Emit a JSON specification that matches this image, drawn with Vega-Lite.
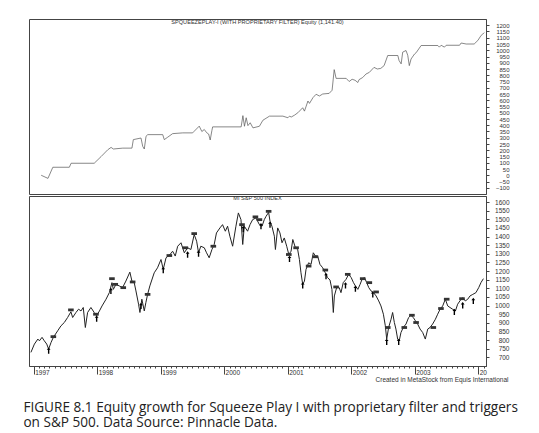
{
  "$schema": "https://vega.github.io/schema/vega-lite/v6.json",
  "background": "white",
  "padding": {"left": 23, "top": 18, "right": 5, "bottom": 5},
  "config": {
    "font": "Liberation Sans",
    "view": {"stroke": "#444", "strokeWidth": 1},
    "concat": {"spacing": 0},
    "axis": {"grid": false, "domainColor": "#444", "tickColor": "#444", "labelColor": "#333", "titleColor": "#333"}
  },
  "title": {
    "text": ["FIGURE 8.1   Equity growth for Squeeze Play I with proprietary filter and triggers", "on S&P 500. Data Source: Pinnacle Data."],
    "orient": "bottom",
    "anchor": "start",
    "font": "Open Sans",
    "fontSize": 13.6,
    "fontWeight": "normal",
    "color": "#222",
    "lineHeight": 15,
    "offset": 18,
    "dx": -5
  },
  "datasets": {
    "equity": [
      {"date": "1997-02-13", "equity": 0},
      {"date": "1997-03-24", "equity": -25},
      {"date": "1997-04-21", "equity": 64},
      {"date": "1997-07-25", "equity": 64},
      {"date": "1997-08-04", "equity": 96},
      {"date": "1997-12-15", "equity": 96},
      {"date": "1998-01-24", "equity": 150},
      {"date": "1998-03-03", "equity": 204},
      {"date": "1998-03-22", "equity": 223},
      {"date": "1998-04-04", "equity": 210},
      {"date": "1998-05-28", "equity": 217},
      {"date": "1998-07-20", "equity": 217},
      {"date": "1998-07-28", "equity": 285},
      {"date": "1998-09-10", "equity": 298},
      {"date": "1998-09-20", "equity": 231},
      {"date": "1998-09-29", "equity": 210},
      {"date": "1998-10-09", "equity": 312},
      {"date": "1998-10-19", "equity": 325},
      {"date": "1999-01-13", "equity": 325},
      {"date": "1999-01-22", "equity": 285},
      {"date": "1999-02-11", "equity": 305},
      {"date": "1999-03-11", "equity": 333},
      {"date": "1999-05-08", "equity": 339},
      {"date": "1999-07-04", "equity": 339},
      {"date": "1999-07-13", "equity": 352},
      {"date": "1999-08-11", "equity": 393},
      {"date": "1999-08-26", "equity": 350},
      {"date": "1999-09-09", "equity": 366},
      {"date": "1999-09-23", "equity": 340},
      {"date": "1999-10-04", "equity": 330},
      {"date": "1999-10-13", "equity": 282},
      {"date": "1999-10-23", "equity": 360},
      {"date": "1999-10-27", "equity": 387},
      {"date": "2000-04-08", "equity": 387},
      {"date": "2000-04-18", "equity": 477},
      {"date": "2000-04-27", "equity": 392},
      {"date": "2000-05-07", "equity": 460},
      {"date": "2000-05-17", "equity": 397},
      {"date": "2000-05-30", "equity": 420},
      {"date": "2000-06-15", "equity": 379},
      {"date": "2000-07-22", "equity": 392},
      {"date": "2000-08-11", "equity": 440},
      {"date": "2000-09-18", "equity": 473},
      {"date": "2000-12-04", "equity": 473},
      {"date": "2001-01-02", "equity": 460},
      {"date": "2001-01-11", "equity": 473},
      {"date": "2001-01-21", "equity": 466},
      {"date": "2001-02-08", "equity": 480},
      {"date": "2001-02-28", "equity": 500},
      {"date": "2001-03-28", "equity": 540},
      {"date": "2001-04-07", "equity": 513},
      {"date": "2001-04-17", "equity": 553},
      {"date": "2001-04-27", "equity": 594},
      {"date": "2001-05-06", "equity": 575},
      {"date": "2001-05-26", "equity": 621},
      {"date": "2001-06-13", "equity": 648},
      {"date": "2001-07-02", "equity": 634},
      {"date": "2001-07-21", "equity": 650},
      {"date": "2001-08-27", "equity": 655},
      {"date": "2001-09-13", "equity": 680},
      {"date": "2001-09-25", "equity": 845},
      {"date": "2001-10-06", "equity": 775},
      {"date": "2001-12-03", "equity": 775},
      {"date": "2001-12-20", "equity": 750},
      {"date": "2002-01-06", "equity": 768},
      {"date": "2002-01-23", "equity": 760},
      {"date": "2002-02-08", "equity": 742},
      {"date": "2002-02-15", "equity": 765},
      {"date": "2002-03-08", "equity": 782},
      {"date": "2002-03-27", "equity": 810},
      {"date": "2002-04-15", "equity": 823},
      {"date": "2002-05-12", "equity": 863},
      {"date": "2002-05-31", "equity": 850},
      {"date": "2002-06-20", "equity": 855},
      {"date": "2002-07-09", "equity": 877},
      {"date": "2002-07-30", "equity": 958},
      {"date": "2002-09-26", "equity": 958},
      {"date": "2002-10-03", "equity": 918},
      {"date": "2002-10-15", "equity": 891},
      {"date": "2002-10-24", "equity": 985},
      {"date": "2002-11-12", "equity": 998},
      {"date": "2002-11-22", "equity": 960},
      {"date": "2002-12-01", "equity": 877},
      {"date": "2002-12-11", "equity": 930},
      {"date": "2002-12-31", "equity": 970},
      {"date": "2003-01-09", "equity": 980},
      {"date": "2003-02-07", "equity": 1038},
      {"date": "2003-05-14", "equity": 1038},
      {"date": "2003-05-23", "equity": 1025},
      {"date": "2003-06-02", "equity": 1040},
      {"date": "2003-06-21", "equity": 1025},
      {"date": "2003-07-01", "equity": 1040},
      {"date": "2003-09-16", "equity": 1040},
      {"date": "2003-09-25", "equity": 1058},
      {"date": "2003-10-24", "equity": 1050},
      {"date": "2003-12-09", "equity": 1050},
      {"date": "2003-12-20", "equity": 1065},
      {"date": "2003-12-30", "equity": 1078},
      {"date": "2004-01-18", "equity": 1119},
      {"date": "2004-01-28", "equity": 1130},
      {"date": "2004-02-05", "equity": 1141.4}
    ],
    "spx": [
      {"date": "1996-12-16", "price": 729},
      {"date": "1997-01-05", "price": 777},
      {"date": "1997-01-25", "price": 806},
      {"date": "1997-02-03", "price": 796},
      {"date": "1997-02-18", "price": 816},
      {"date": "1997-03-03", "price": 796},
      {"date": "1997-03-17", "price": 777},
      {"date": "1997-03-28", "price": 748},
      {"date": "1997-04-11", "price": 787},
      {"date": "1997-04-24", "price": 816},
      {"date": "1997-05-19", "price": 854},
      {"date": "1997-06-07", "price": 883},
      {"date": "1997-06-26", "price": 902},
      {"date": "1997-07-15", "price": 931},
      {"date": "1997-08-03", "price": 964},
      {"date": "1997-08-13", "price": 931},
      {"date": "1997-09-01", "price": 960},
      {"date": "1997-09-16", "price": 979},
      {"date": "1997-09-30", "price": 969},
      {"date": "1997-10-13", "price": 989},
      {"date": "1997-10-25", "price": 873},
      {"date": "1997-11-07", "price": 960},
      {"date": "1997-11-26", "price": 989},
      {"date": "1997-12-15", "price": 960},
      {"date": "1997-12-29", "price": 941},
      {"date": "1998-01-14", "price": 969},
      {"date": "1998-01-29", "price": 998},
      {"date": "1998-02-21", "price": 1037},
      {"date": "1998-03-12", "price": 1075},
      {"date": "1998-03-27", "price": 1133},
      {"date": "1998-04-04", "price": 1094},
      {"date": "1998-04-19", "price": 1123},
      {"date": "1998-05-08", "price": 1114},
      {"date": "1998-05-27", "price": 1104},
      {"date": "1998-06-15", "price": 1142},
      {"date": "1998-07-08", "price": 1194},
      {"date": "1998-07-20", "price": 1142},
      {"date": "1998-08-02", "price": 1133},
      {"date": "1998-08-12", "price": 1085},
      {"date": "1998-08-27", "price": 1008},
      {"date": "1998-09-04", "price": 960},
      {"date": "1998-09-15", "price": 1037},
      {"date": "1998-09-29", "price": 969},
      {"date": "1998-10-08", "price": 1017},
      {"date": "1998-10-18", "price": 1065},
      {"date": "1998-10-31", "price": 1114},
      {"date": "1998-11-25", "price": 1190},
      {"date": "1998-12-14", "price": 1219},
      {"date": "1999-01-03", "price": 1267},
      {"date": "1999-01-16", "price": 1210},
      {"date": "1999-02-01", "price": 1277},
      {"date": "1999-02-24", "price": 1296},
      {"date": "1999-03-11", "price": 1315},
      {"date": "1999-03-26", "price": 1287},
      {"date": "1999-04-09", "price": 1344},
      {"date": "1999-04-28", "price": 1364},
      {"date": "1999-05-17", "price": 1306},
      {"date": "1999-06-05", "price": 1335},
      {"date": "1999-06-24", "price": 1325},
      {"date": "1999-07-13", "price": 1412},
      {"date": "1999-07-27", "price": 1373},
      {"date": "1999-08-07", "price": 1306},
      {"date": "1999-08-20", "price": 1344},
      {"date": "1999-09-09", "price": 1335},
      {"date": "1999-09-22", "price": 1306},
      {"date": "1999-10-07", "price": 1277},
      {"date": "1999-10-23", "price": 1325},
      {"date": "1999-11-05", "price": 1354},
      {"date": "1999-11-18", "price": 1421},
      {"date": "1999-12-08", "price": 1450},
      {"date": "1999-12-23", "price": 1469},
      {"date": "2000-01-08", "price": 1431},
      {"date": "2000-01-21", "price": 1460},
      {"date": "2000-02-03", "price": 1402},
      {"date": "2000-02-19", "price": 1344},
      {"date": "2000-03-09", "price": 1460},
      {"date": "2000-03-23", "price": 1537},
      {"date": "2000-04-07", "price": 1498},
      {"date": "2000-04-17", "price": 1354},
      {"date": "2000-04-26", "price": 1460},
      {"date": "2000-05-15", "price": 1431},
      {"date": "2000-05-29", "price": 1469},
      {"date": "2000-06-13", "price": 1498},
      {"date": "2000-07-02", "price": 1508},
      {"date": "2000-07-22", "price": 1469},
      {"date": "2000-08-06", "price": 1460},
      {"date": "2000-08-19", "price": 1498},
      {"date": "2000-08-29", "price": 1517},
      {"date": "2000-09-13", "price": 1540},
      {"date": "2000-09-21", "price": 1489},
      {"date": "2000-10-02", "price": 1460},
      {"date": "2000-10-16", "price": 1402},
      {"date": "2000-10-22", "price": 1325},
      {"date": "2000-11-04", "price": 1450},
      {"date": "2000-11-17", "price": 1421},
      {"date": "2000-11-29", "price": 1364},
      {"date": "2000-12-12", "price": 1392},
      {"date": "2000-12-26", "price": 1344},
      {"date": "2001-01-07", "price": 1296},
      {"date": "2001-01-20", "price": 1315},
      {"date": "2001-01-30", "price": 1383},
      {"date": "2001-02-14", "price": 1335},
      {"date": "2001-02-27", "price": 1325},
      {"date": "2001-03-09", "price": 1267},
      {"date": "2001-03-18", "price": 1190},
      {"date": "2001-03-28", "price": 1123},
      {"date": "2001-04-07", "price": 1142},
      {"date": "2001-04-16", "price": 1210},
      {"date": "2001-05-01", "price": 1248},
      {"date": "2001-05-15", "price": 1239},
      {"date": "2001-05-28", "price": 1306},
      {"date": "2001-06-09", "price": 1287},
      {"date": "2001-06-22", "price": 1287},
      {"date": "2001-07-05", "price": 1239},
      {"date": "2001-07-21", "price": 1219},
      {"date": "2001-08-05", "price": 1190},
      {"date": "2001-08-18", "price": 1162},
      {"date": "2001-09-01", "price": 1148},
      {"date": "2001-09-12", "price": 1094},
      {"date": "2001-09-20", "price": 960},
      {"date": "2001-09-26", "price": 1056},
      {"date": "2001-10-09", "price": 1104},
      {"date": "2001-10-24", "price": 1104},
      {"date": "2001-11-03", "price": 1075},
      {"date": "2001-11-16", "price": 1133},
      {"date": "2001-12-02", "price": 1152},
      {"date": "2001-12-17", "price": 1181},
      {"date": "2002-01-01", "price": 1162},
      {"date": "2002-01-14", "price": 1133},
      {"date": "2002-01-25", "price": 1114},
      {"date": "2002-02-08", "price": 1094},
      {"date": "2002-02-21", "price": 1123},
      {"date": "2002-03-04", "price": 1152},
      {"date": "2002-03-18", "price": 1162},
      {"date": "2002-03-31", "price": 1133},
      {"date": "2002-04-12", "price": 1104},
      {"date": "2002-04-25", "price": 1085},
      {"date": "2002-05-09", "price": 1075},
      {"date": "2002-05-24", "price": 1056},
      {"date": "2002-06-08", "price": 1027},
      {"date": "2002-06-21", "price": 998},
      {"date": "2002-07-05", "price": 950},
      {"date": "2002-07-16", "price": 883},
      {"date": "2002-07-24", "price": 806},
      {"date": "2002-08-04", "price": 873},
      {"date": "2002-08-18", "price": 921},
      {"date": "2002-08-27", "price": 960},
      {"date": "2002-09-06", "price": 902},
      {"date": "2002-09-15", "price": 864},
      {"date": "2002-09-25", "price": 806},
      {"date": "2002-10-04", "price": 796},
      {"date": "2002-10-14", "price": 844},
      {"date": "2002-10-27", "price": 873},
      {"date": "2002-11-12", "price": 893},
      {"date": "2002-11-27", "price": 931},
      {"date": "2002-12-10", "price": 944},
      {"date": "2002-12-24", "price": 931},
      {"date": "2003-01-05", "price": 912},
      {"date": "2003-01-18", "price": 893},
      {"date": "2003-02-01", "price": 864},
      {"date": "2003-02-16", "price": 844},
      {"date": "2003-03-03", "price": 806},
      {"date": "2003-03-17", "price": 864},
      {"date": "2003-03-30", "price": 873},
      {"date": "2003-04-14", "price": 893},
      {"date": "2003-04-30", "price": 921},
      {"date": "2003-05-13", "price": 950},
      {"date": "2003-05-27", "price": 979},
      {"date": "2003-06-11", "price": 998},
      {"date": "2003-06-26", "price": 1037},
      {"date": "2003-07-10", "price": 998},
      {"date": "2003-07-23", "price": 989},
      {"date": "2003-08-07", "price": 979},
      {"date": "2003-08-23", "price": 969},
      {"date": "2003-09-05", "price": 1008},
      {"date": "2003-09-18", "price": 1027},
      {"date": "2003-10-04", "price": 1046},
      {"date": "2003-10-19", "price": 1027},
      {"date": "2003-11-02", "price": 1037},
      {"date": "2003-11-15", "price": 1056},
      {"date": "2003-12-01", "price": 1065},
      {"date": "2003-12-19", "price": 1075},
      {"date": "2004-01-04", "price": 1104},
      {"date": "2004-01-17", "price": 1133},
      {"date": "2004-01-31", "price": 1156}
    ],
    "signals": [
      {"date": "1997-03-28", "price": 739, "type": "entry"},
      {"date": "1997-04-24", "price": 820, "type": "exit"},
      {"date": "1997-08-03", "price": 975, "type": "exit"},
      {"date": "1997-12-25", "price": 950, "type": "exit"},
      {"date": "1997-12-29", "price": 925, "type": "entry"},
      {"date": "1998-03-21", "price": 1085, "type": "entry"},
      {"date": "1998-03-27", "price": 1156, "type": "exit"},
      {"date": "1998-04-15", "price": 1123, "type": "exit"},
      {"date": "1998-05-31", "price": 1104, "type": "exit"},
      {"date": "1998-07-24", "price": 1137, "type": "exit"},
      {"date": "1998-09-10", "price": 998, "type": "entry"},
      {"date": "1998-10-18", "price": 1065, "type": "exit"},
      {"date": "1999-01-16", "price": 1206, "type": "entry"},
      {"date": "1999-02-20", "price": 1290, "type": "exit"},
      {"date": "1999-05-23", "price": 1335, "type": "exit"},
      {"date": "1999-06-05", "price": 1296, "type": "entry"},
      {"date": "1999-07-13", "price": 1417, "type": "exit"},
      {"date": "1999-08-07", "price": 1302, "type": "entry"},
      {"date": "1999-10-31", "price": 1344, "type": "exit"},
      {"date": "2000-04-13", "price": 1469, "type": "exit"},
      {"date": "2000-04-20", "price": 1444, "type": "entry"},
      {"date": "2000-06-29", "price": 1514, "type": "exit"},
      {"date": "2000-07-22", "price": 1498, "type": "exit"},
      {"date": "2000-07-31", "price": 1460, "type": "entry"},
      {"date": "2000-09-13", "price": 1546, "type": "exit"},
      {"date": "2000-09-21", "price": 1469, "type": "entry"},
      {"date": "2001-01-07", "price": 1296, "type": "exit"},
      {"date": "2001-01-11", "price": 1271, "type": "entry"},
      {"date": "2001-02-18", "price": 1335, "type": "exit"},
      {"date": "2001-03-28", "price": 1117, "type": "entry"},
      {"date": "2001-05-01", "price": 1229, "type": "exit"},
      {"date": "2001-06-09", "price": 1283, "type": "exit"},
      {"date": "2001-08-05", "price": 1206, "type": "exit"},
      {"date": "2001-08-09", "price": 1171, "type": "entry"},
      {"date": "2001-10-06", "price": 1108, "type": "exit"},
      {"date": "2001-11-29", "price": 1117, "type": "entry"},
      {"date": "2001-12-12", "price": 1181, "type": "exit"},
      {"date": "2002-01-25", "price": 1098, "type": "entry"},
      {"date": "2002-03-08", "price": 1156, "type": "exit"},
      {"date": "2002-04-15", "price": 1133, "type": "exit"},
      {"date": "2002-05-05", "price": 1065, "type": "entry"},
      {"date": "2002-05-24", "price": 1079, "type": "exit"},
      {"date": "2002-07-24", "price": 790, "type": "entry"},
      {"date": "2002-07-30", "price": 873, "type": "exit"},
      {"date": "2002-10-01", "price": 790, "type": "entry"},
      {"date": "2002-11-02", "price": 873, "type": "exit"},
      {"date": "2002-12-16", "price": 944, "type": "exit"},
      {"date": "2003-01-09", "price": 902, "type": "exit"},
      {"date": "2003-04-18", "price": 873, "type": "exit"},
      {"date": "2003-06-01", "price": 983, "type": "exit"},
      {"date": "2003-07-04", "price": 1037, "type": "exit"},
      {"date": "2003-08-17", "price": 964, "type": "entry"},
      {"date": "2003-09-30", "price": 1040, "type": "exit"},
      {"date": "2003-10-04", "price": 1002, "type": "entry"},
      {"date": "2003-12-04", "price": 1027, "type": "entry"}
    ]
  },
  "vconcat": [
    {
      "width": 457,
      "height": 175,
      "title": {
        "text": "SPQUEEZEPLAY-I (WITH PROPRIETARY FILTER) Equity (1,141.40)",
        "anchor": "middle",
        "font": "Liberation Sans",
        "fontSize": 5.6,
        "fontWeight": "normal",
        "color": "#333",
        "offset": -7
      },
      "data": {"name": "equity"},
      "mark": {"type": "line", "color": "#555", "strokeWidth": 0.7},
      "encoding": {
        "x": {
          "field": "date",
          "type": "temporal",
          "scale": {"type": "utc", "domain": [{"year": 1996, "month": 12, "date": 5, "utc": true}, {"year": 2004, "month": 2, "date": 15, "utc": true}]},
          "axis": null
        },
        "y": {
          "field": "equity",
          "type": "quantitative",
          "scale": {"domain": [-150, 1250], "nice": false, "zero": false},
          "axis": {
            "orient": "right",
            "title": null,
            "format": "d",
            "values": [-100, -50, 0, 50, 100, 150, 200, 250, 300, 350, 400, 450, 500, 550, 600, 650, 700, 750, 800, 850, 900, 950, 1000, 1050, 1100, 1150, 1200],
            "labelFontSize": 6,
            "labelAlign": "right",
            "labelPadding": 20,
            "tickSize": 3,
            "labelOverlap": false
          }
        }
      }
    },
    {
      "width": 457,
      "height": 170,
      "title": {
        "text": "MI S&P 500 INDEX",
        "anchor": "middle",
        "font": "Liberation Sans",
        "fontSize": 5.6,
        "fontWeight": "normal",
        "color": "#333",
        "offset": -6
      },
      "encoding": {
        "x": {
          "field": "date",
          "type": "temporal",
          "scale": {"type": "utc", "domain": [{"year": 1996, "month": 12, "date": 5, "utc": true}, {"year": 2004, "month": 2, "date": 15, "utc": true}]},
          "axis": {
            "orient": "bottom",
            "tickCount": {"interval": "month", "step": 1},
            "labelExpr": "utcmonth(datum.value) == 0 ? (utcyear(datum.value) == 2004 ? '20' : utcFormat(datum.value, '%Y')) : ''",
            "labelAlign": "left",
            "labelFontSize": 6.5,
            "labelPadding": -5,
            "labelOffset": 1,
            "labelOverlap": false,
            "tickSize": {"condition": {"test": "utcmonth(datum.value) == 0", "value": 8}, "value": 2},
            "title": "Created in MetaStock from Equis International",
            "titleFontSize": 6.5,
            "titleFontWeight": "normal",
            "titleAlign": "right",
            "titleBaseline": "top",
            "titleX": 479,
            "titleY": 10
          }
        },
        "y": {
          "field": "price",
          "type": "quantitative",
          "scale": {"domain": [650, 1635], "nice": false, "zero": false},
          "axis": {
            "orient": "right",
            "title": null,
            "format": "d",
            "values": [700, 750, 800, 850, 900, 950, 1000, 1050, 1100, 1150, 1200, 1250, 1300, 1350, 1400, 1450, 1500, 1550, 1600],
            "labelFontSize": 6.5,
            "labelAlign": "right",
            "labelPadding": 20,
            "tickSize": 3,
            "labelOverlap": false
          }
        }
      },
      "layer": [
        {
          "data": {"name": "spx"},
          "mark": {"type": "line", "color": "#222", "strokeWidth": 1}
        },
        {
          "data": {"name": "signals"},
          "transform": [{"filter": "datum.type == 'entry'"}],
          "mark": {"type": "point", "shape": "M0,-1L0.6,-0.25H0.22V1H-0.22V-0.25H-0.6Z", "filled": true, "color": "#000", "opacity": 1, "size": 40}
        },
        {
          "data": {"name": "signals"},
          "transform": [{"filter": "datum.type == 'exit'"}],
          "mark": {"type": "point", "shape": "M-1.4,-0.7H1.4V0.7H-1.4Z", "filled": true, "color": "#333", "opacity": 1, "size": 16}
        }
      ]
    }
  ]
}
